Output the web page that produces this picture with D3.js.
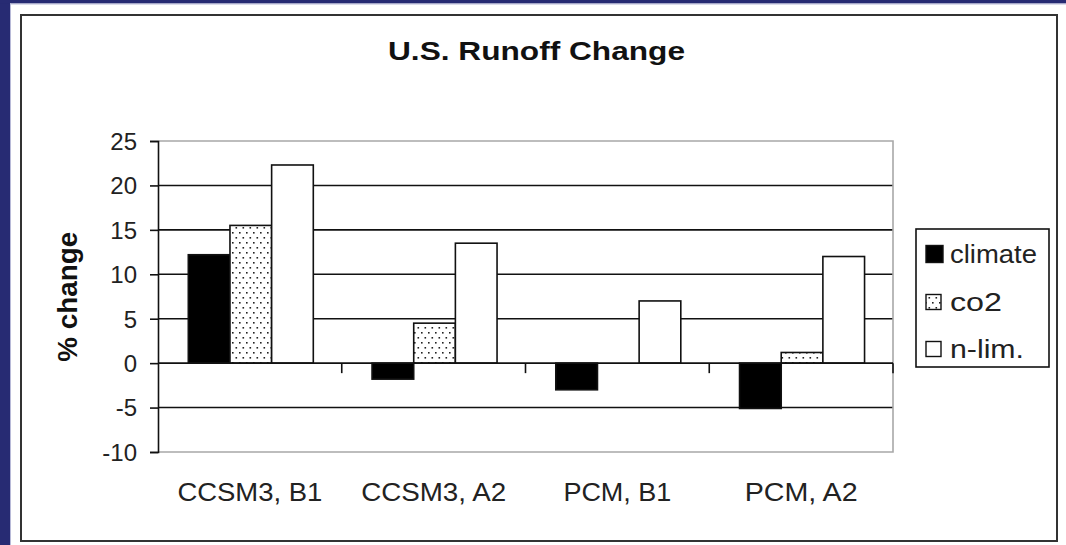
<!DOCTYPE html>
<html>
<head>
<meta charset="utf-8">
<script src="https://cdn.jsdelivr.net/npm/d3@7"></script>
<style>
  html, body { margin: 0; padding: 0; background: #ffffff; }
  svg { display: block; }
  text { font-family: "Liberation Sans", Arial, sans-serif; }
</style>
</head>
<body>
<script>
const categories = ["CCSM3, B1", "CCSM3, A2", "PCM, B1", "PCM, A2"];
const seriesNames = ["climate", "co2", "n-lim."];
const climate = [12.2, -1.8, -3.0, -5.1];
const co2 = [15.5, 4.5, 0, 1.2];
const nlim = [22.3, 13.5, 7.0, 12.0];
const yTicks = [-10, -5, 0, 5, 10, 15, 20, 25];
const chartTitle = "U.S. Runoff Change";
const yLabel = "% change";

(function () {
const W = 1066, H = 545;
const svg = d3.select("body").append("svg").attr("width", W).attr("height", H);

// pattern for co2
const defs = svg.append("defs");
const pat = defs.append("pattern").attr("id", "dots").attr("patternUnits", "userSpaceOnUse")
  .attr("width", 7).attr("height", 10);
pat.append("rect").attr("width", 7).attr("height", 10).attr("fill", "#fff");
pat.append("rect").attr("x", 1).attr("y", 2).attr("width", 1.6).attr("height", 1.6).attr("fill", "#222");
pat.append("rect").attr("x", 4.5).attr("y", 7).attr("width", 1.6).attr("height", 1.6).attr("fill", "#222");

// background frame
svg.append("rect").attr("x", 0).attr("y", 0).attr("width", W).attr("height", H).attr("fill", "#fff");
svg.append("rect").attr("x", 0).attr("y", 0).attr("width", 10).attr("height", H).attr("fill", "#272b73");
svg.append("rect").attr("x", 0).attr("y", 0).attr("width", W).attr("height", 3.5).attr("fill", "#272b73");
svg.append("rect").attr("x", 10).attr("y", 3.5).attr("width", 1).attr("height", H).attr("fill", "#b8bad8");
svg.append("rect").attr("x", 10).attr("y", 3.5).attr("width", W).attr("height", 1).attr("fill", "#b8bad8");
svg.append("rect").attr("x", 21).attr("y", 15).attr("width", 1036).attr("height", 526)
  .attr("fill", "none").attr("stroke", "#333").attr("stroke-width", 2);

// plot area
const pLeft = 158, pRight = 893, pTop = 141, pBottom = 452;
const y = d3.scaleLinear().domain([-10, 25]).range([pBottom, pTop]);
const x0 = d3.scaleBand().domain(categories).range([pLeft, pRight]).paddingInner(0).paddingOuter(0);
const x1 = d3.scaleBand().domain(seriesNames).range([30.3, 30.3 + 125]);

// gridlines
const g = svg.append("g");
g.selectAll("line.grid").data(yTicks.filter(t => t !== 25 && t !== -10 && t !== 0)).enter().append("line")
  .attr("x1", pLeft).attr("x2", pRight).attr("y1", d => y(d)).attr("y2", d => y(d))
  .attr("stroke", "#111").attr("stroke-width", 1.6);
// plot border gray top/right/bottom
g.append("path").attr("d", `M${pLeft},${y(25)}H${pRight}V${y(-10)}H${pLeft}`)
  .attr("fill", "none").attr("stroke", "#a8a8a8").attr("stroke-width", 1.6);

// bars
const seriesData = [climate, co2, nlim];
const fills = ["#000", "url(#dots)", "#fff"];
seriesData.forEach((vals, si) => {
  svg.append("g").selectAll("rect").data(vals.map((v, i) => ({ v, c: categories[i] })).filter(d => d.v !== 0))
    .enter().append("rect")
    .attr("x", d => x0(d.c) + x1(seriesNames[si]))
    .attr("width", x1.bandwidth())
    .attr("y", d => y(Math.max(0, d.v)))
    .attr("height", d => Math.abs(y(d.v) - y(0)))
    .attr("fill", fills[si]).attr("stroke", "#111").attr("stroke-width", 1.6);
});

// zero line
svg.append("line").attr("x1", pLeft).attr("x2", pRight).attr("y1", y(0)).attr("y2", y(0))
  .attr("stroke", "#111").attr("stroke-width", 1.6);
// category tick marks
const bounds = categories.map(c => x0(c) + x0.bandwidth());
svg.selectAll("line.ctick").data(bounds).enter().append("line")
  .attr("x1", d => d).attr("x2", d => d).attr("y1", y(0)).attr("y2", y(0) + 10)
  .attr("stroke", "#111").attr("stroke-width", 1.6);

// y axis
const yAxis = d3.axisLeft(y).tickValues(yTicks).tickSize(8).tickPadding(13).tickFormat(d => String(d));
const ya = svg.append("g").attr("transform", `translate(${pLeft},0)`).call(yAxis);
ya.select(".domain").attr("stroke", "#111").attr("stroke-width", 1.6);
ya.selectAll(".tick line").attr("stroke", "#111").attr("stroke-width", 1.6);
ya.selectAll(".tick text").attr("font-size", 24).attr("fill", "#222")
  .attr("font-family", "Liberation Sans, Arial, sans-serif").attr("dy", "0.35em");

// x labels
svg.append("g").selectAll("text").data(categories).enter().append("text")
  .attr("x", d => x0(d) + x0.bandwidth() / 2).attr("y", 501)
  .attr("text-anchor", "middle").attr("font-size", 25).attr("fill", "#222")
  .attr("textLength", d => d.startsWith("CCSM") ? 145 : (d === "PCM, B1" ? 108 : 113))
  .attr("lengthAdjust", "spacingAndGlyphs")
  .text(d => d);

// title
svg.append("text").attr("x", 536.5).attr("y", 60).attr("text-anchor", "middle")
  .attr("font-size", 26).attr("font-weight", "bold").attr("fill", "#111")
  .attr("textLength", 297).attr("lengthAdjust", "spacingAndGlyphs").text(chartTitle);

// y label
svg.append("text").attr("transform", "translate(76.5,296.7) rotate(-90)").attr("text-anchor", "middle")
  .attr("font-size", 27).attr("font-weight", "bold").attr("fill", "#111")
  .attr("textLength", 130).attr("lengthAdjust", "spacingAndGlyphs").text(yLabel);

// legend
const lg = svg.append("g");
lg.append("rect").attr("x", 916).attr("y", 229).attr("width", 133).attr("height", 138)
  .attr("fill", "#fff").attr("stroke", "#111").attr("stroke-width", 1.6);
const rowsY = [254, 302, 349];
const legW = [87, 52, 74];
seriesNames.forEach((n, i) => {
  const sz = i === 0 ? 17 : 15;
  lg.append("rect").attr("x", 926).attr("y", rowsY[i] - sz / 2).attr("width", sz).attr("height", sz)
    .attr("fill", fills[i]).attr("stroke", "#111").attr("stroke-width", 1.4);
  lg.append("text").attr("x", 950).attr("y", rowsY[i] + 8.5).attr("font-size", 25).attr("fill", "#222")
    .attr("textLength", legW[i]).attr("lengthAdjust", "spacingAndGlyphs").text(n);
});
})();
</script>
</body>
</html>
